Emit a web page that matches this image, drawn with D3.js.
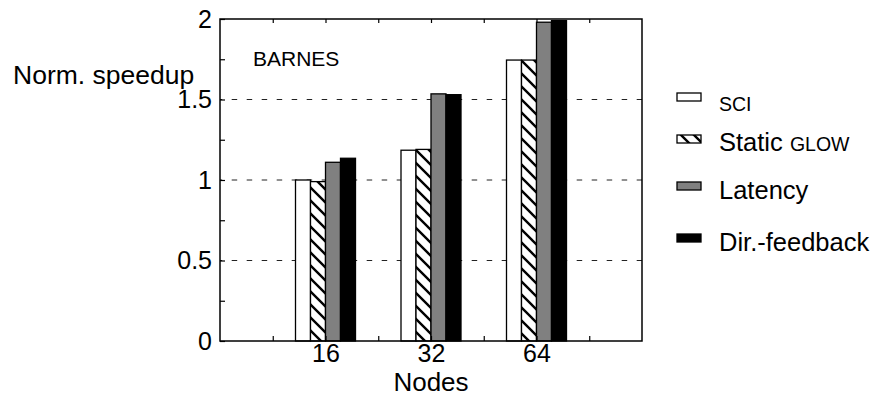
<!DOCTYPE html>
<html>
<head>
<meta charset="utf-8">
<script src="https://cdn.jsdelivr.net/npm/d3@7"></script>
<style>
  body { margin: 0; background: #fff; }
  text { font-family: "Liberation Sans", Arial, sans-serif; fill: #000; }
</style>
</head>
<body>
<div id="barchart"></div>
<script>
// data

const categories = ["16", "32", "64"];
const seriesNames = ["SCI", "Static GLOW", "Latency", "Dir.-feedback"];
const sciValues = [1.0, 1.185, 1.745];
const staticGlowValues = [0.99, 1.19, 1.745];
const latencyValues = [1.11, 1.535, 1.98];
const dirFeedbackValues = [1.135, 1.53, 1.99];
const yTicks = [0, 0.5, 1, 1.5, 2];
const yMinorTicks = [0.25, 0.75, 1.25, 1.75];
const gridValues = [0.5, 1, 1.5];

const seriesValues = [sciValues, staticGlowValues, latencyValues, dirFeedbackValues];

// Set dimensions and margins for the chart

const margin = { top: 19, right: 240, bottom: 58, left: 220 };
const width = 882 - margin.left - margin.right;
const height = 399 - margin.top - margin.bottom;

const svg = d3.select("#barchart")
  .append("svg")
    .attr("width", 882)
    .attr("height", 399)

// hatch pattern for the Static GLOW bars
svg.append("defs")
  .append("pattern")
    .attr("id", "hatch")
    .attr("patternUnits", "userSpaceOnUse")
    .attr("width", 13)
    .attr("height", 13)
  .call(p => {
    p.append("rect").attr("width", 13).attr("height", 13).attr("fill", "#fff");
    p.append("path")
      .attr("d", "M-3,-3 L16,16 M-3,10 L3,16 M10,-3 L16,3")
      .attr("stroke", "#000")
      .attr("stroke-width", 2.4);
  });

const fills = ["#fff", "url(#hatch)", "#808080", "#000"];

const g = svg.append("g")
    .attr("transform", `translate(${margin.left},${margin.top})`);

// scales

const x = d3.scaleLinear()
  .domain([0, 4])
  .range([0, width]);

const xSub = d3.scaleBand()
  .domain(seriesNames)
  .range([-30, 30]);

const y = d3.scaleLinear()
  .domain([0, 2])
  .range([height, 0]);

// dashed grid lines
g.append("g")
  .selectAll("line")
  .data(gridValues)
  .join("line")
    .attr("x1", 0)
    .attr("x2", width)
    .attr("y1", d => y(d))
    .attr("y2", d => y(d))
    .attr("stroke", "#222")
    .attr("stroke-width", 1)
    .attr("stroke-dasharray", "5.5,9.5")
    .attr("stroke-dashoffset", 3.3)

// bars
const bars = [];
categories.forEach((c, i) => {
  seriesNames.forEach((s, j) => {
    bars.push({ pos: i + 1, series: s, value: seriesValues[j][i], fill: fills[j] });
  });
});

g.append("g")
  .selectAll("rect")
  .data(bars)
  .join("rect")
    .attr("x", d => x(d.pos) + xSub(d.series))
    .attr("y", d => y(d.value))
    .attr("width", xSub.bandwidth())
    .attr("height", d => y(0) - y(d.value))
    .attr("fill", d => d.fill)
    .attr("stroke", "#000")
    .attr("stroke-width", 1.3)

// axes

const axisStyle = sel => {
  sel.select(".domain").remove();
  sel.selectAll(".tick line").attr("stroke", "#000").attr("stroke-width", 1.2);
  sel.selectAll("text").attr("font-size", 25).attr("font-family", "Liberation Sans, Arial, sans-serif");
};

g.append("g")
  .call(d3.axisLeft(y).tickValues(yTicks).tickFormat(d3.format("")).tickSizeInner(-5).tickSizeOuter(0).tickPadding(8))
  .call(axisStyle)

g.append("g")
  .call(d3.axisLeft(y).tickValues(yMinorTicks).tickFormat("").tickSizeInner(-5).tickSizeOuter(0))
  .call(axisStyle)

g.append("g")
  .attr("transform", `translate(0, ${height})`)
  .call(d3.axisBottom(x).tickValues([1, 2, 3]).tickFormat(d => categories[d - 1]).tickSizeInner(-5).tickSizeOuter(0).tickPadding(3))
  .call(axisStyle)

g.append("g")
  .attr("transform", `translate(0, ${height})`)
  .call(d3.axisBottom(x).tickValues([0.5, 1.5, 2.5, 3.5]).tickFormat("").tickSizeInner(-5).tickSizeOuter(0))
  .call(axisStyle)

g.append("g")
  .call(d3.axisTop(x).tickValues(d3.range(0.5, 4, 0.5)).tickFormat("").tickSizeInner(-4).tickSizeOuter(0))
  .call(axisStyle)

// frame
g.append("rect")
  .attr("width", width)
  .attr("height", height)
  .attr("fill", "none")
  .attr("stroke", "#000")
  .attr("stroke-width", 1.5)

// titles
svg.append("text")
  .attr("x", 13)
  .attr("y", 84)
  .attr("font-size", 26.5)
  .text("Norm. speedup")

svg.append("text")
  .attr("x", margin.left + width / 2)
  .attr("y", 391)
  .attr("text-anchor", "middle")
  .attr("font-size", 26)
  .text("Nodes")

svg.append("text")
  .attr("x", 253)
  .attr("y", 66)
  .attr("font-size", 21)
  .text("BARNES")

// legend
const legendRows = [
  { box: 93, text: 111 },
  { box: 135, text: 151 },
  { box: 182, text: 199 },
  { box: 234, text: 251 }
];

const legend = svg.append("g");

seriesNames.forEach((s, i) => {
  legend.append("rect")
    .attr("x", 677)
    .attr("y", legendRows[i].box)
    .attr("width", 24)
    .attr("height", 8)
    .attr("fill", fills[i])
    .attr("stroke", "#000")
    .attr("stroke-width", 1.3)

  const t = legend.append("text")
    .attr("x", 719)
    .attr("y", legendRows[i].text)
    .attr("font-size", 25.5)

  // small caps parts
  if (s === "SCI") {
    t.append("tspan").attr("font-size", 19.5).text("SCI");
  } else if (s === "Static GLOW") {
    t.append("tspan").text("Static ");
    t.append("tspan").attr("font-size", 19.5).text("GLOW");
  } else {
    t.text(s);
  }
});
</script>
</body>
</html>
